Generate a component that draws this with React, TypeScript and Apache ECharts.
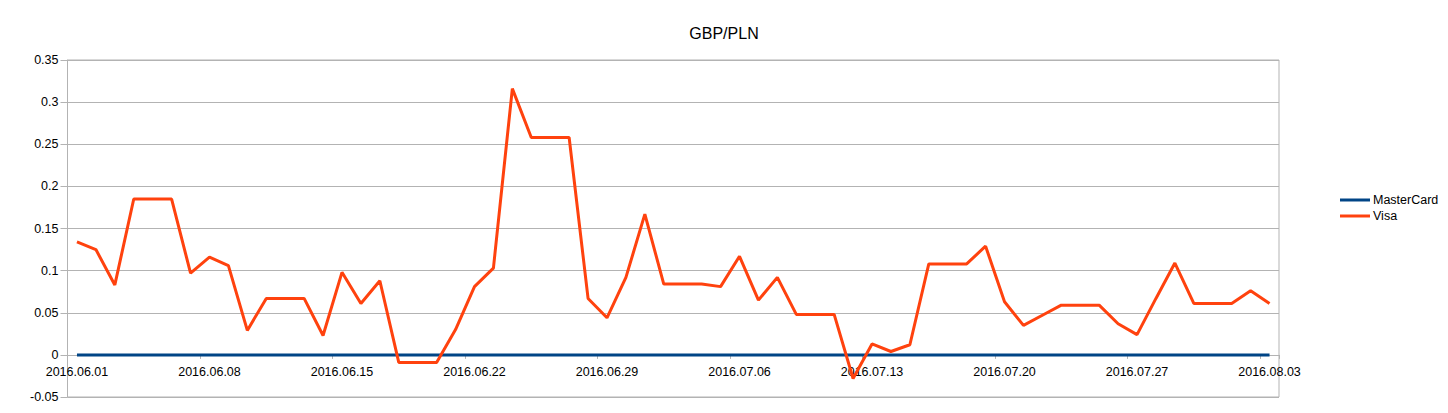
import React, { useEffect, useRef } from "react";
import * as echarts from "echarts";

const dates = [
  "2016.06.01", "2016.06.02", "2016.06.03", "2016.06.04", "2016.06.05", "2016.06.06", "2016.06.07",
  "2016.06.08", "2016.06.09", "2016.06.10", "2016.06.11", "2016.06.12", "2016.06.13", "2016.06.14",
  "2016.06.15", "2016.06.16", "2016.06.17", "2016.06.18", "2016.06.19", "2016.06.20", "2016.06.21",
  "2016.06.22", "2016.06.23", "2016.06.24", "2016.06.25", "2016.06.26", "2016.06.27", "2016.06.28",
  "2016.06.29", "2016.06.30", "2016.07.01", "2016.07.02", "2016.07.03", "2016.07.04", "2016.07.05",
  "2016.07.06", "2016.07.07", "2016.07.08", "2016.07.09", "2016.07.10", "2016.07.11", "2016.07.12",
  "2016.07.13", "2016.07.14", "2016.07.15", "2016.07.16", "2016.07.17", "2016.07.18", "2016.07.19",
  "2016.07.20", "2016.07.21", "2016.07.22", "2016.07.23", "2016.07.24", "2016.07.25", "2016.07.26",
  "2016.07.27", "2016.07.28", "2016.07.29", "2016.07.30", "2016.07.31", "2016.08.01", "2016.08.02",
  "2016.08.03",
];

const masterCard = [
  0, 0, 0, 0, 0, 0, 0, 0, 0, 0, 0, 0, 0, 0, 0, 0,
  0, 0, 0, 0, 0, 0, 0, 0, 0, 0, 0, 0, 0, 0, 0, 0,
  0, 0, 0, 0, 0, 0, 0, 0, 0, 0, 0, 0, 0, 0, 0, 0,
  0, 0, 0, 0, 0, 0, 0, 0, 0, 0, 0, 0, 0, 0, 0, 0,
];

const visa = [
  0.134, 0.125, 0.083, 0.185, 0.185, 0.185, 0.097, 0.116, 0.106, 0.029, 0.067, 0.067, 0.067, 0.023,
  0.098, 0.061, 0.088, -0.009, -0.009, -0.009, 0.030, 0.081, 0.103, 0.316, 0.258, 0.258, 0.258,
  0.067, 0.044, 0.092, 0.167, 0.084, 0.084, 0.084, 0.081, 0.117, 0.065, 0.092, 0.048, 0.048, 0.048,
  -0.028, 0.013, 0.004, 0.012, 0.108, 0.108, 0.108, 0.129, 0.063, 0.035, 0.047, 0.059, 0.059, 0.059,
  0.037, 0.024, 0.067, 0.109, 0.061, 0.061, 0.061, 0.076, 0.061,
];

const FONT = "Liberation Sans, Arial, sans-serif";
const GRID_COLOR = "#b3b3b3";

export default function App() {
  const ref = useRef<HTMLDivElement>(null);

  useEffect(() => {
    if (!ref.current) return;
    const chart = echarts.init(ref.current, null, { renderer: "svg" });
    chart.setOption({
      animation: false,
      backgroundColor: "#ffffff",
      title: {
        text: "GBP/PLN",
        left: "center",
        top: 20,
        textStyle: { fontFamily: FONT, fontSize: 16, fontWeight: "normal", color: "#000" },
      },
      legend: {
        orient: "vertical",
        left: 1335,
        top: 188,
        itemWidth: 30,
        itemHeight: 3,
        itemGap: 2,
        icon: "rect",
        textStyle: { fontFamily: FONT, fontSize: 12.5, color: "#000", lineHeight: 14, padding: [0, 0, 0, -2] },
        data: ["MasterCard", "Visa"],
      },
      grid: {
        left: 67.5,
        right: 169,
        top: 60,
        bottom: 16,
        show: true,
        borderColor: GRID_COLOR,
        borderWidth: 1,
        containLabel: false,
        outerBoundsMode: "none",
      },
      xAxis: {
        type: "category",
        data: dates,
        boundaryGap: true,
        offset: -42.1,
        axisLine: { show: true, onZero: false, lineStyle: { color: GRID_COLOR } },
        axisTick: { show: true, interval: 6, length: 4, lineStyle: { color: GRID_COLOR } },
        axisLabel: { interval: 6, margin: 11, fontFamily: FONT, fontSize: 12.5, color: "#000" },
        splitLine: { show: false },
      },
      yAxis: {
        type: "value",
        min: -0.05,
        max: 0.35,
        interval: 0.05,
        axisLine: { show: true, lineStyle: { color: GRID_COLOR } },
        axisTick: { show: true, length: 7, lineStyle: { color: GRID_COLOR } },
        axisLabel: {
          margin: 9,
          fontFamily: FONT,
          fontSize: 12.5,
          color: "#000",
          formatter: (v: number) => String(parseFloat(v.toFixed(4))),
        },
        splitLine: { show: true, lineStyle: { color: GRID_COLOR, width: 1 } },
      },
      series: [
        {
          name: "MasterCard",
          type: "line",
          data: masterCard,
          symbol: "none",
          showSymbol: false,
          lineStyle: { color: "#004586", width: 3 },
          itemStyle: { color: "#004586" },
        },
        {
          name: "Visa",
          type: "line",
          data: visa,
          symbol: "none",
          showSymbol: false,
          lineStyle: { color: "#ff420e", width: 3 },
          itemStyle: { color: "#ff420e" },
        },
      ],
    });
    return () => chart.dispose();
  }, []);

  return (
    <div
      ref={ref}
      style={{ position: "fixed", left: 0, top: 0, width: 1448, height: 413 }}
    />
  );
}
